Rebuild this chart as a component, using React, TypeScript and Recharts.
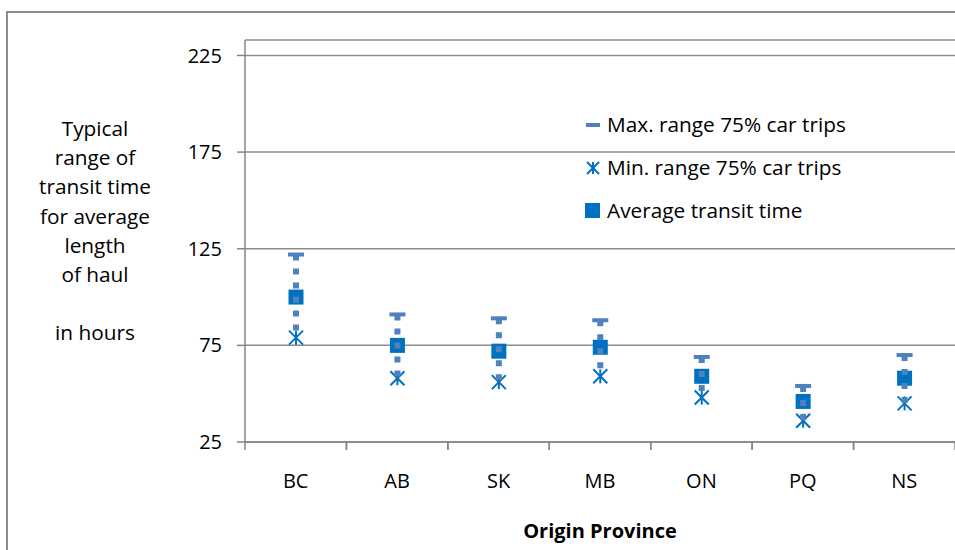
import React from 'react';
import { ComposedChart, Line, Bar, XAxis, YAxis, CartesianGrid, Legend } from 'recharts';

const categories = ['BC', 'AB', 'SK', 'MB', 'ON', 'PQ', 'NS'];
const maxRange = [122, 91, 89, 88, 69, 54, 70];
const minRange = [79, 58, 56, 59, 48, 36, 45];
const avgTransit = [100, 75, 72, 74, 59, 46, 58];
const yTicks = [25, 75, 125, 175, 225];
const yLabelLines = ['Typical', 'range of', 'transit time', 'for average', 'length', 'of haul', '', 'in hours'];

const data = categories.map((c, i) => ({
  cat: c,
  max: maxRange[i],
  min: minRange[i],
  avg: avgTransit[i],
  range: [minRange[i], maxRange[i]],
}));

const LIGHT = '#4F81BD';
const DARK = '#0070C0';
const FONT = '"Open Sans", Lato, sans-serif';
const FS = 20;
const FS_L = 20.8;

const asterisk = (cx: number, cy: number, s: number) => (
  <g stroke={DARK} strokeWidth={2}>
    <line x1={cx - s} y1={cy - s} x2={cx + s} y2={cy + s} />
    <line x1={cx - s} y1={cy + s} x2={cx + s} y2={cy - s} />
    <line x1={cx} y1={cy - s} x2={cx} y2={cy + s} />
  </g>
);

// Draws the full high-low-average glyph in one layer so the dotted
// high-low line sits on top of the markers, as in the original.
const HiLo = (p: any) => {
  const cx = p.x + p.width / 2;
  const top = Math.min(p.y, p.y + p.height);
  const bot = Math.max(p.y, p.y + p.height);
  const d = p.payload;
  const avgY = top + ((d.max - d.avg) / (d.max - d.min)) * (bot - top);
  return (
    <g>
      <rect x={cx - 8} y={top - 2} width={16} height={4} fill={LIGHT} />
      <rect x={cx - 7.5} y={avgY - 7.5} width={15} height={15} fill={DARK} />
      {asterisk(cx, bot, 7)}
      <line x1={cx} y1={top} x2={cx} y2={bot} stroke={LIGHT} strokeWidth={6} strokeDasharray="6 8" />
    </g>
  );
};

const XTick = (p: any) => {
  const off = p.payload.offset || 0;
  return (
    <g>
      <line x1={p.x - off} y1={p.y} x2={p.x - off} y2={p.y + 8} stroke="#868686" strokeWidth={1.5} />
      <line x1={p.x + off} y1={p.y} x2={p.x + off} y2={p.y + 8} stroke="#868686" strokeWidth={1.5} />
      <text x={p.x} y={p.y + 38} textAnchor="middle" dominantBaseline="central" fontSize={FS} fontFamily={FONT} fill="#000">
        {p.payload.value}
      </text>
    </g>
  );
};

const LegendContent = () => {
  const items = [
    { label: 'Max. range 75% car trips', icon: <rect x={1} y={8} width={14} height={4} fill={LIGHT} /> },
    { label: 'Min. range 75% car trips', icon: asterisk(8, 10, 6) },
    { label: 'Average transit time', icon: <rect x={0} y={2} width={15} height={15} fill={DARK} /> },
  ];
  return (
    <div style={{ fontFamily: FONT, fontSize: FS_L, color: '#000', lineHeight: 1 }}>
      {items.map((it) => (
        <div key={it.label} style={{ display: 'flex', alignItems: 'center', height: 43 }}>
          <svg width={16} height={20} style={{ marginRight: 6 }}>{it.icon}</svg>
          <span>{it.label}</span>
        </div>
      ))}
    </div>
  );
};

const YLabel = () => (
  <text x={95} y={128} textAnchor="middle" dominantBaseline="central" fontSize={FS_L} fontFamily={FONT} fill="#000">
    {yLabelLines.map((l, i) => (
      <tspan key={i} x={95} dy={i === 0 ? 0 : 29.2}>{l || ' '}</tspan>
    ))}
  </text>
);

export default function App() {
  return (
    <div style={{ position: 'fixed', left: 0, top: 0, width: 955, height: 550, overflow: 'hidden', background: '#fff' }}>
      <div style={{ position: 'absolute', left: 6, top: 11, width: 1100, height: 700, border: '2px solid #8c8c8c', boxSizing: 'border-box' }} />
      <div style={{ position: 'absolute', left: 0, top: 0 }}>
        <ComposedChart width={955} height={550} data={data} margin={{ top: 40, right: 0, left: 0, bottom: 0 }}>
          <CartesianGrid vertical={false} stroke="#8c8c8c" strokeWidth={1.5} />
          <XAxis
            dataKey="cat"
            height={108}
            tickLine={false}
            tickSize={0}
            tickMargin={0}
            tick={<XTick />}
            axisLine={{ stroke: '#868686', strokeWidth: 1.5 }}
            interval={0}
            label={{
              content: (props: any) => {
                const vb = props.viewBox;
                return (
                  <text x={vb.x + vb.width / 2} y={vb.y + 88} textAnchor="middle" dominantBaseline="central" fontSize={FS} fontWeight="bold" fontFamily={FONT} fill="#000">
                    Origin Province
                  </text>
                );
              },
            }}
          />
          <YAxis
            width={245}
            domain={[25, 233]}
            ticks={yTicks}
            allowDataOverflow
            tickSize={8}
            tickMargin={15}
            tickLine={{ stroke: '#868686', strokeWidth: 1.5 }}
            axisLine={{ stroke: '#868686', strokeWidth: 1.5 }}
            tick={{ fontSize: FS, fontFamily: FONT, fill: '#000' }}
            label={{ content: () => <YLabel /> }}
          />
          <Legend
            layout="horizontal"
            verticalAlign="middle"
            align="center"
            content={<LegendContent />}
            wrapperStyle={{ position: 'absolute', left: 585, top: 103, width: 330 }}
          />
          <Line dataKey="max" name="Max. range 75% car trips" stroke="none" dot={false} activeDot={false} isAnimationActive={false} />
          <Line dataKey="min" name="Min. range 75% car trips" stroke="none" dot={false} activeDot={false} isAnimationActive={false} />
          <Line dataKey="avg" name="Average transit time" stroke="none" dot={false} activeDot={false} isAnimationActive={false} />
          <Bar dataKey="range" legendType="none" barSize={20} shape={<HiLo />} isAnimationActive={false} />
        </ComposedChart>
      </div>
    </div>
  );
}
